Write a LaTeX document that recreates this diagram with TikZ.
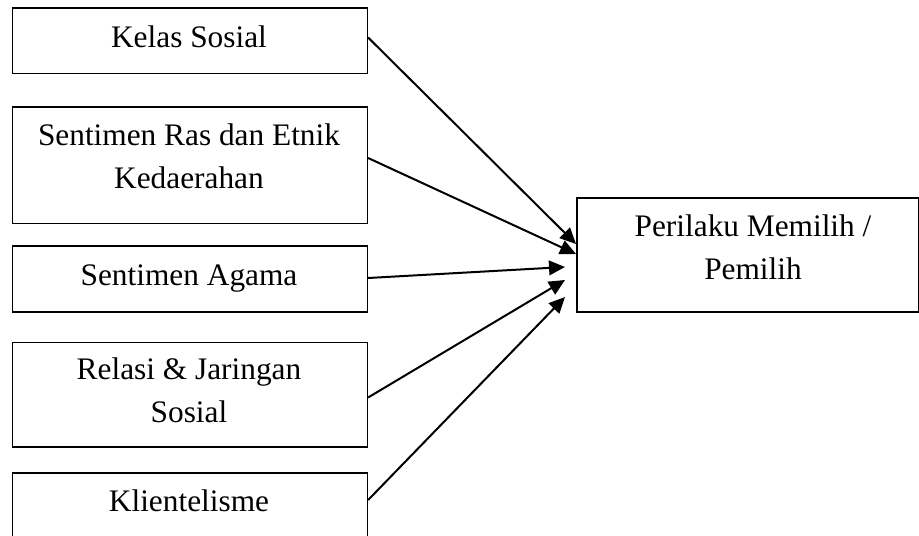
\documentclass[tikz,border=0pt]{standalone}
\usepackage{fontspec}
\setmainfont{Liberation Serif}
\usetikzlibrary{arrows.meta,calc}
\begin{document}
\begin{tikzpicture}[x=0.75pt,y=-0.75pt,
  box/.style={draw,line width=1.2pt,inner sep=0pt,anchor=north west},
  lbl/.style={font=\fontsize{23.5}{32.25}\selectfont,align=center,anchor=base,inner sep=0pt},
  arr/.style={line width=1.5pt,-{Triangle[length=12pt,width=11pt]}}]
\useasboundingbox (0,0) rectangle (919,535);
\clip (0,0) rectangle (919,535);
\node[box,minimum width=266.25pt,minimum height=48.9pt] (k1) at (11.5,7.5) {};
\node[box,minimum width=266.25pt,minimum height=87.4pt] (k2) at (11.5,106) {};
\node[box,minimum width=266.25pt,minimum height=49.5pt] (k3) at (11.5,245) {};
\node[box,minimum width=266.25pt,minimum height=78.4pt] (k4) at (11.5,341.5) {};
\node[box,minimum width=266.25pt,minimum height=66pt] (k5) at (11.5,472) {};
\node[box,minimum width=256.5pt,minimum height=85.5pt] (p) at (576,197) {};
\node[lbl] (t1) at (189,48) {Kelas Sosial};
\node[lbl] (t2) at (189,188) {Sentimen Ras dan Etnik\\Kedaerahan};
\node[lbl] (t3) at (189,285) {Sentimen Agama};
\node[lbl] (t4) at (189,422.5) {Relasi \& Jaringan\\Sosial};
\node[lbl] (t5) at (189,511) {Klientelisme};
\node[lbl] (tp) at (753,279.5) {Perilaku Memilih /\\Pemilih};
\draw[arr] ($(k1.north east)+(0,30)$) -- ($(p.north west)+(0,47)$);
\draw[arr] ($(k2.north east)+(0,52)$) -- ($(p.north west)+(0,57)$);
\draw[arr] ($(k3.north east)+(0,33)$) -- ($(p.north west)+(-11,70)$);
\draw[arr] ($(k4.north east)+(0,56)$) -- ($(p.north west)+(-11,83)$);
\draw[arr] ($(k5.north east)+(0,28)$) -- ($(p.north west)+(-11,100)$);
\end{tikzpicture}
\end{document}
